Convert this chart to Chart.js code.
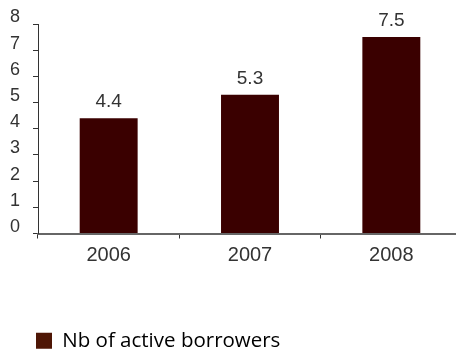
<!DOCTYPE html>
<html>
<head>
<meta charset="utf-8">
<script src="https://cdn.jsdelivr.net/npm/chart.js@4/dist/chart.umd.min.js"></script>
<style>
html,body{margin:0;padding:0;background:#fff;overflow:hidden;}
#wrap{position:absolute;left:0;top:0;width:462px;height:361px;}
</style>
</head>
<body>
<div id="wrap"><canvas id="c"></canvas></div>
<script>
const categories = ['2006', '2007', '2008'];
const seriesName = 'Nb of active borrowers';
const values = [4.4, 5.3, 7.5];
const yTicks = [0, 1, 2, 3, 4, 5, 6, 7, 8];

const valueLabels = {
  id: 'valueLabels',
  afterDatasetsDraw(chart) {
    const ctx = chart.ctx;
    const meta = chart.getDatasetMeta(0);
    ctx.save();
    ctx.font = '19px "Liberation Sans", Arial, sans-serif';
    ctx.fillStyle = '#333333';
    ctx.textAlign = 'center';
    ctx.textBaseline = 'alphabetic';
    meta.data.forEach((el, i) => {
      ctx.fillText(String(values[i]), el.x, el.y - 11);
    });
    ctx.restore();
  }
};

new Chart(document.getElementById('c'), {
  type: 'bar',
  data: {
    labels: categories,
    datasets: [{
      label: seriesName,
      data: values,
      backgroundColor: '#3a0000',
      borderWidth: 0,
      categoryPercentage: 1,
      barPercentage: 0.41
    }]
  },
  options: {
    responsive: true,
    maintainAspectRatio: false,
    animation: false,
    layout: { padding: { top: 24, left: 0, right: 0, bottom: 0 } },
    plugins: {
      tooltip: { enabled: false },
      legend: {
        position: 'bottom',
        align: 'start',
        labels: {
          boxWidth: 16,
          boxHeight: 16,
          padding: 36,
          color: '#333333',
          font: { family: '"Open Sans", sans-serif', size: 20.5 },
          generateLabels(chart) {
            return [{
              text: seriesName,
              fillStyle: '#4e1605',
              strokeStyle: '#4e1605',
              lineWidth: 0,
              hidden: false,
              datasetIndex: 0
            }];
          }
        }
      }
    },
    scales: {
      x: {
        offset: true,
        afterFit(scale) { scale.height = 61; },
        grid: {
          offset: true,
          drawOnChartArea: false,
          drawTicks: true,
          tickLength: 5,
          color: '#333333'
        },
        border: { color: '#666666', width: 2 },
        ticks: {
          color: '#333333',
          padding: 5,
          font: { family: '"Liberation Sans", Arial, sans-serif', size: 20 }
        }
      },
      y: {
        min: 0,
        max: 8,
        afterFit(scale) { scale.width = 38; },
        afterBuildTicks(scale) { scale.ticks = yTicks.map(v => ({ value: v })); },
        grid: {
          drawOnChartArea: false,
          drawTicks: true,
          tickLength: 5,
          color: '#333333'
        },
        border: { color: '#333333', width: 1 },
        ticks: {
          color: '#333333',
          padding: 13,
          labelOffset: -6.5,
          font: { family: '"Liberation Sans", Arial, sans-serif', size: 18 }
        }
      }
    }
  },
  plugins: [valueLabels]
});
</script>
</body>
</html>
